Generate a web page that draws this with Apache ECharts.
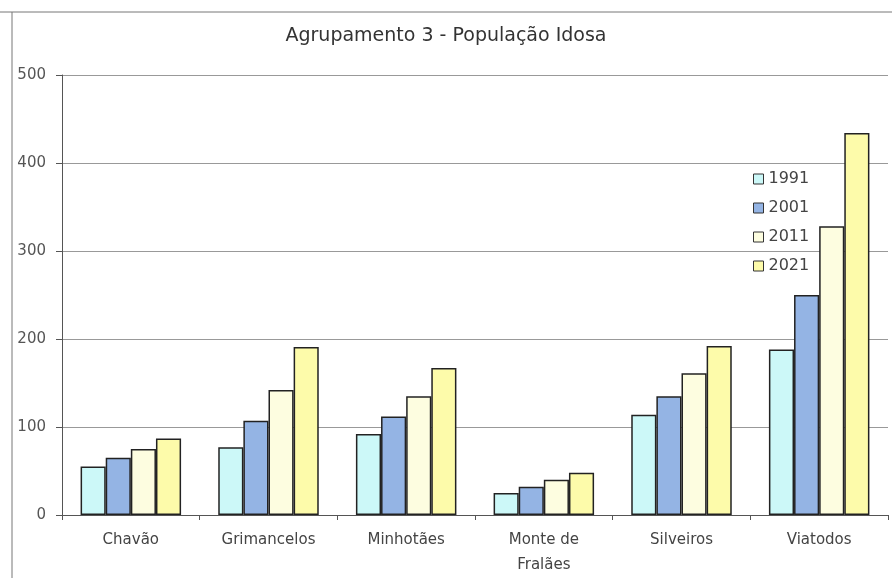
<!DOCTYPE html>
<html>
<head>
<meta charset="utf-8">
<script src="https://cdn.jsdelivr.net/npm/echarts@6/dist/echarts.min.js"></script>
<style>
  html, body { margin: 0; padding: 0; background: #fff; }
  #chart { width: 892px; height: 578px; }
</style>
</head>
<body>
<div id="chart"></div>
<script>
var chart = echarts.init(document.getElementById('chart'));

var categories = ['Chavão', 'Grimancelos', 'Minhotães', 'Monte de\nFralães', 'Silveiros', 'Viatodos'];
var years = ['1991', '2001', '2011', '2021'];
var v1991 = [55, 77, 92, 25, 114, 188];
var v2001 = [65, 107, 112, 32, 135, 250];
var v2011 = [75, 142, 135, 40, 161, 328];
var v2021 = [87, 191, 167, 48, 192, 434];
var yTicks = [0, 100, 200, 300, 400, 500];

var colors = ['#ccf8f8', '#94b4e4', '#fdfde0', '#fdfbaa'];
var values = [v1991, v2001, v2011, v2021];

var font = 'DejaVu Sans, sans-serif';

var series = years.map(function (y, i) {
    return {
        name: y,
        type: 'bar',
        data: values[i],
        barGap: '0%',
        barCategoryGap: '27%',
        itemStyle: { color: colors[i], borderColor: '#222', borderWidth: 1.5 }
    };
});

chart.setOption({
    animation: false,
    backgroundColor: '#fff',
    title: {
        text: 'Agrupamento 3 - População Idosa',
        left: 'center',
        top: 22,
        textStyle: { fontFamily: font, fontSize: 19, fontWeight: 'normal', color: '#333' }
    },
    legend: {
        orient: 'vertical',
        left: 748,
        top: 166,
        itemWidth: 10,
        itemHeight: 10,
        itemGap: 13,
        icon: 'rect',
        data: years,
        textStyle: { fontFamily: font, fontSize: 16, color: '#444' },
        itemStyle: { borderColor: '#333', borderWidth: 1 }
    },
    grid: { left: 62, right: 4, top: 75, bottom: 63 },
    xAxis: {
        type: 'category',
        data: categories,
        axisLine: { lineStyle: { color: '#555', width: 1 } },
        axisTick: { show: true, length: 5, lineStyle: { color: '#555' } },
        axisLabel: { fontFamily: font, fontSize: 15, color: '#444', margin: 13, lineHeight: 25 }
    },
    yAxis: {
        type: 'value',
        min: yTicks[0],
        max: yTicks[yTicks.length - 1],
        interval: 100,
        axisLine: { show: true, lineStyle: { color: '#555', width: 1 } },
        axisTick: { show: true, length: 6, lineStyle: { color: '#555' } },
        axisLabel: { fontFamily: font, fontSize: 15, color: '#555', margin: 16 },
        splitLine: { lineStyle: { color: '#999', width: 1 } }
    },
    graphic: [
        { type: 'line', shape: { x1: 0, y1: 12, x2: 892, y2: 12 }, style: { stroke: '#777', lineWidth: 1 } },
        { type: 'line', shape: { x1: 12, y1: 12, x2: 12, y2: 578 }, style: { stroke: '#777', lineWidth: 1 } }
    ],
    series: series
});
</script>
</body>
</html>
